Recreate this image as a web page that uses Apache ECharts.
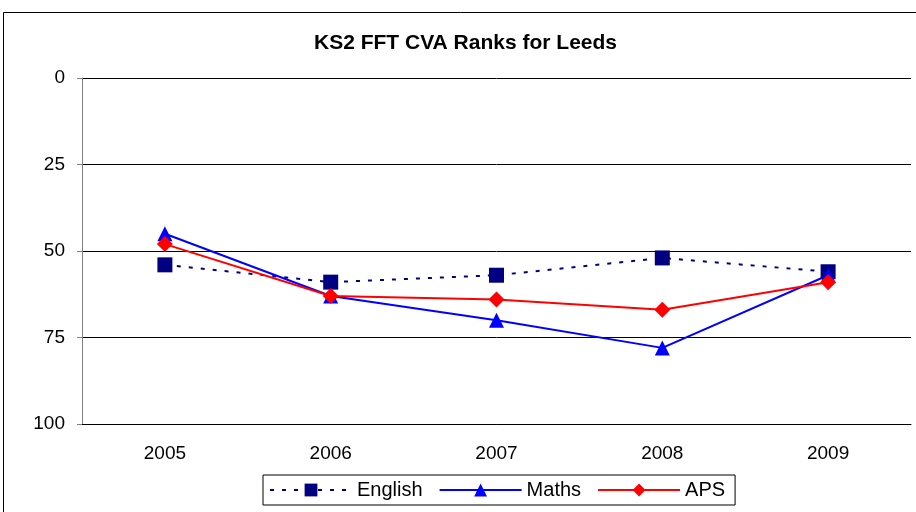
<!DOCTYPE html>
<html><head><meta charset="utf-8">
<script src="https://cdn.jsdelivr.net/npm/echarts@6/dist/echarts.min.js"></script>
<style>html,body{margin:0;padding:0;background:#fff}#c{width:916px;height:512px}</style>
</head><body><div id="c"></div>
<script>
const years = ['2005','2006','2007','2008','2009'];
const english = [54, 59, 57, 52, 56];
const maths = [45, 63, 70, 78, 57];
const aps = [48, 63, 64, 67, 59];
const yTicks = [0, 25, 50, 75, 100];

const chart = echarts.init(document.getElementById('c'));
const font = 'Liberation Sans, Arial, sans-serif';
chart.setOption({
  animation: false,
  backgroundColor: '#fff',
  textStyle: {fontFamily: font},
  title: {text: 'KS2 FFT CVA Ranks for Leeds', left: 314, top: 33, padding: 0,
    textStyle: {fontFamily: font, fontWeight: 'bold', fontSize: 21, color: '#000'}},
  graphic: [{type: 'rect', shape: {x: 3.5, y: 12.5, width: 1000, height: 1000},
    style: {fill: 'none', stroke: '#000', lineWidth: 1}, z: -1}],
  grid: {left: 82, right: 5, top: 78, bottom: 88},
  legend: {bottom: 7, left: 263, itemWidth: 82, itemHeight: 16, itemGap: 16,
    borderColor: '#000', borderWidth: 1, padding: [5, 10, 5, 6],
    textStyle: {fontFamily: font, fontSize: 20, color: '#000'},
    data: ['English', 'Maths', 'APS']},
  xAxis: {type: 'category', data: years, boundaryGap: true,
    axisLine: {onZero: false, lineStyle: {color: '#000'}},
    axisTick: {show: false},
    axisLabel: {color: '#000', fontSize: 19, fontFamily: font, margin: 20}},
  yAxis: {type: 'value', inverse: true, min: 0, max: 100, interval: 25,
    axisLine: {show: true, lineStyle: {color: '#808080'}},
    axisTick: {show: true, length: 5, lineStyle: {color: '#808080'}},
    axisLabel: {color: '#000', fontSize: 19, fontFamily: font, margin: 17,
      formatter: v => yTicks.includes(v) ? String(v) : ''},
    splitLine: {show: true, lineStyle: {color: '#000', width: 1}}},
  series: [
    {name: 'English', type: 'line', data: english, symbol: 'rect', symbolSize: 15,
      color: '#000080', lineStyle: {color: '#000080', width: 2, type: [4, 8]},
      itemStyle: {color: '#000080'}},
    {name: 'Maths', type: 'line', data: maths, symbol: 'triangle', symbolSize: 15,
      color: '#0000ff', lineStyle: {color: '#0000ff', width: 2},
      itemStyle: {color: '#0000ff'}},
    {name: 'APS', type: 'line', data: aps, symbol: 'diamond', symbolSize: 16,
      color: '#ff0000', lineStyle: {color: '#ff0000', width: 2},
      itemStyle: {color: '#ff0000'}}
  ]
});
</script></body></html>
